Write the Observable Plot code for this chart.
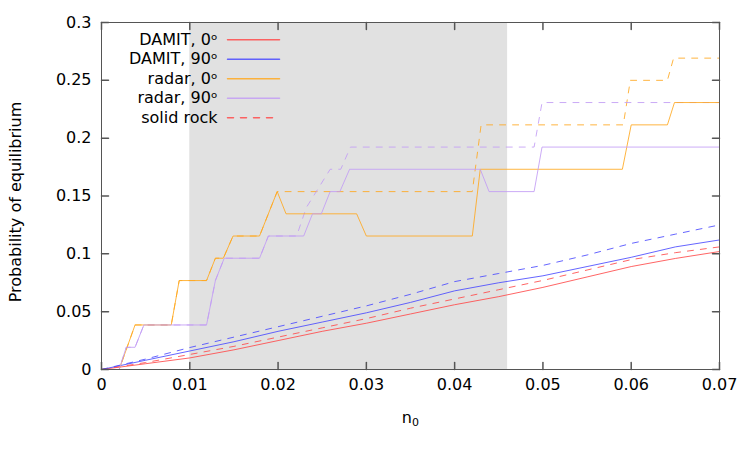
<!DOCTYPE html>
<html><head><meta charset="utf-8">
<script src="https://cdn.jsdelivr.net/npm/d3@7"></script>
<script src="https://cdn.jsdelivr.net/npm/@observablehq/plot@0.6"></script>
<style>
body{margin:0;background:#fff}
svg{font-family:"DejaVu Sans",sans-serif}
</style>
</head><body><div id="chart"></div>
<script>
// ---- tick values and labels ----
const xTicks = [0, 0.01, 0.02, 0.03, 0.04, 0.05, 0.06, 0.07];
const xTickLabels = ["0", "0.01", "0.02", "0.03", "0.04", "0.05", "0.06", "0.07"];
const yTicks = [0, 0.05, 0.1, 0.15, 0.2, 0.25, 0.3];
const yTickLabels = ["0", "0.05", "0.1", "0.15", "0.2", "0.25", "0.3"];
const shadedBand = [{from: 0.01, to: 0.046}];

// ---- DAMIT series (sampled n0) ----
const damitN0 = [0, 0.005, 0.01, 0.015, 0.02, 0.025, 0.03, 0.035, 0.04, 0.045, 0.05, 0.055, 0.06, 0.065, 0.07];
const damit0 = [0, 0.005, 0.010, 0.017, 0.025, 0.033, 0.040, 0.048, 0.056, 0.063, 0.071, 0.080, 0.089, 0.096, 0.102];
const damit90 = [0, 0.008, 0.016, 0.024, 0.033, 0.041, 0.049, 0.058, 0.068, 0.075, 0.081, 0.089, 0.097, 0.106, 0.112];
const damit0Rock = [0, 0.006, 0.013, 0.020, 0.028, 0.036, 0.044, 0.053, 0.061, 0.069, 0.077, 0.086, 0.095, 0.101, 0.106];
const damit90Rock = [0, 0.009, 0.019, 0.028, 0.037, 0.046, 0.055, 0.065, 0.076, 0.083, 0.090, 0.099, 0.109, 0.117, 0.125];

// ---- radar series (vertices) ----
const radar0N0 = [0, 0.0020, 0.0038, 0.0079, 0.0088, 0.0119, 0.0129, 0.0138, 0.0149, 0.0179, 0.0199, 0.0209, 0.0289, 0.0300, 0.0420, 0.0429, 0.0590, 0.0600, 0.0641, 0.0649, 0.07];
const radar0 = [0, 0, 0.0385, 0.0385, 0.0769, 0.0769, 0.0962, 0.0962, 0.1154, 0.1154, 0.1538, 0.1346, 0.1346, 0.1154, 0.1154, 0.1731, 0.1731, 0.2115, 0.2115, 0.2308, 0.2308];
const radar90N0 = [0, 0.0020, 0.0028, 0.0038, 0.0048, 0.0119, 0.0129, 0.0139, 0.0179, 0.0189, 0.0229, 0.0239, 0.0249, 0.0259, 0.0270, 0.0281, 0.0429, 0.0439, 0.0490, 0.0499, 0.07];
const radar90 = [0, 0, 0.0192, 0.0192, 0.0385, 0.0385, 0.0769, 0.0962, 0.0962, 0.1154, 0.1154, 0.1346, 0.1346, 0.1538, 0.1538, 0.1731, 0.1731, 0.1538, 0.1538, 0.1923, 0.1923];
const radar0RockN0 = [0, 0.0020, 0.0038, 0.0079, 0.0088, 0.0119, 0.0129, 0.0138, 0.0149, 0.0179, 0.0199, 0.0420, 0.0430, 0.0591, 0.0599, 0.0641, 0.0648, 0.07];
const radar0Rock = [0, 0, 0.0385, 0.0385, 0.0769, 0.0769, 0.0962, 0.0962, 0.1154, 0.1154, 0.1538, 0.1538, 0.2115, 0.2115, 0.25, 0.25, 0.2692, 0.2692];
const radar90RockN0 = [0, 0.0020, 0.0028, 0.0038, 0.0048, 0.0119, 0.0129, 0.0139, 0.0179, 0.0189, 0.0221, 0.0232, 0.0259, 0.0271, 0.0282, 0.0490, 0.0499, 0.07];
const radar90Rock = [0, 0, 0.0192, 0.0192, 0.0385, 0.0385, 0.0769, 0.0962, 0.0962, 0.1154, 0.1154, 0.1400, 0.1731, 0.1731, 0.1923, 0.1923, 0.2308, 0.2308];

// ---- legend ----
const legendLabels = ["DAMIT, 0ᵒ", "DAMIT, 90ᵒ", "radar, 0ᵒ", "radar, 90ᵒ", "solid rock"];
const legendColors = ["#ff4a4a", "#4a4aff", "#ffa820", "#c29cf4", "#ff4a4a"];
const legendDashed = [false, false, false, false, true];

const RED = "#ff4a4a", BLUE = "#4a4aff", ORANGE = "#ffa820", PURPLE = "#c29cf4";
const DASH = "6,7";

const series = [
  {xs: damitN0, ys: damit0, color: RED, dashed: false},
  {xs: damitN0, ys: damit90, color: BLUE, dashed: false},
  {xs: damitN0, ys: damit0Rock, color: RED, dashed: true},
  {xs: damitN0, ys: damit90Rock, color: BLUE, dashed: true},
  {xs: radar0RockN0, ys: radar0Rock, color: ORANGE, dashed: true},
  {xs: radar90RockN0, ys: radar90Rock, color: PURPLE, dashed: true},
  {xs: radar0N0, ys: radar0, color: ORANGE, dashed: false},
  {xs: radar90N0, ys: radar90, color: PURPLE, dashed: false}
];

const lineShape = {draw(context, l) { context.moveTo(0, 0); context.lineTo(0, -l); }};
const TICK = 7;
const AX = "#555";

const marks = [
  Plot.rect(shadedBand, {x1: "from", x2: "to", y1: 0, y2: 0.3, fill: "#e1e1e1"}),
  ...series.map(s => Plot.line(d3.zip(s.xs, s.ys), {
    x: d => d[0], y: d => d[1], stroke: s.color, strokeWidth: 1,
    strokeOpacity: 0.85, strokeDasharray: s.dashed ? DASH : null
  })),
  Plot.frame({stroke: AX, strokeWidth: 1}),
  // inward ticks on all four sides
  Plot.vector(xTicks, {x: d => d, y: 0, length: TICK, rotate: 0, anchor: "start", shape: lineShape, stroke: AX}),
  Plot.vector(xTicks, {x: d => d, y: 0.3, length: TICK, rotate: 180, anchor: "start", shape: lineShape, stroke: AX}),
  Plot.vector(yTicks, {x: 0, y: d => d, length: TICK, rotate: 90, anchor: "start", shape: lineShape, stroke: AX}),
  Plot.vector(yTicks, {x: 0.07, y: d => d, length: TICK, rotate: -90, anchor: "start", shape: lineShape, stroke: AX}),
  Plot.axisX({ticks: xTicks, tickSize: 0, tickPadding: 9, tickFormat: (d, i) => xTickLabels[i], fontSize: 16, label: null}),
  Plot.axisY({ticks: yTicks, tickSize: 0, tickPadding: 10, tickFormat: (d, i) => yTickLabels[i], fontSize: 16, label: null}),
  Plot.text(["Probability of equilibrium"], {frameAnchor: "left", text: d => d, rotate: -90, dx: -86, dy: 6, fontSize: 16, textAnchor: "middle", lineAnchor: "middle", fill: "black"}),
  Plot.text(["n"], {frameAnchor: "bottom", text: d => d, dx: 1.5, dy: 48, fontSize: 16, textAnchor: "end", lineAnchor: "middle", fill: "black"}),
  Plot.text(["0"], {frameAnchor: "bottom", text: d => d, dx: 1.5, dy: 53, fontSize: 11, textAnchor: "start", lineAnchor: "middle", fill: "black"}),
  ...legendLabels.map((t, i) => Plot.text([t], {frameAnchor: "top-left", text: d => d, dx: 116, dy: 17.3 + i * 19.5, textAnchor: "end", lineAnchor: "middle", fontSize: 16, fill: "black"})),
  ...legendLabels.map((t, i) => Plot.vector([t], {frameAnchor: "top-left", dx: 126, dy: 17.3 + i * 19.5, length: 52, rotate: 90, anchor: "start", shape: lineShape, stroke: legendColors[i], strokeOpacity: 0.85, strokeDasharray: legendDashed[i] ? DASH : null}))
];

const chart = Plot.plot({
  width: 750, height: 450,
  marginLeft: 101, marginRight: 31, marginTop: 22, marginBottom: 81,
  style: {fontFamily: "DejaVu Sans, sans-serif", fontSize: "16px", background: "white", color: "black"},
  x: {domain: [0, 0.07]},
  y: {domain: [0, 0.3]},
  marks
});
document.getElementById("chart").appendChild(chart);
</script>
</body></html>
